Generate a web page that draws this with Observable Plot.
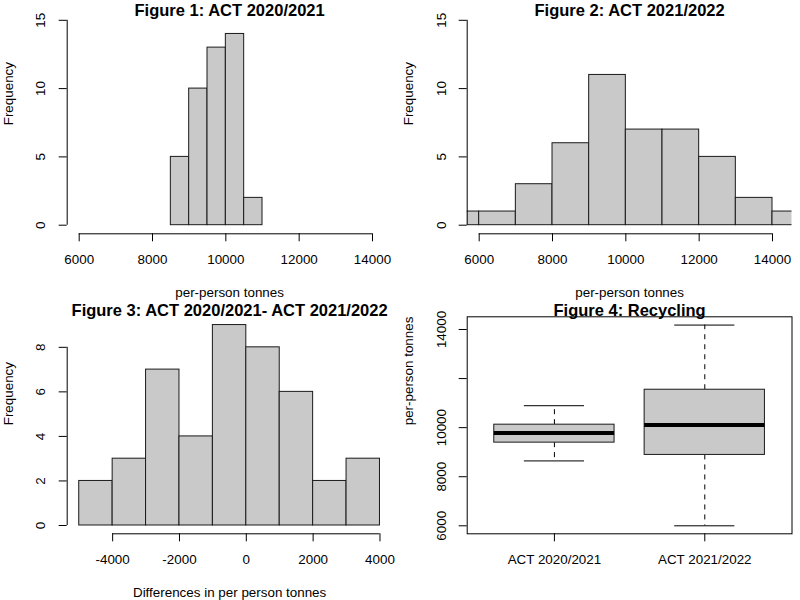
<!DOCTYPE html>
<html><head><meta charset="utf-8">
<script src="https://cdn.jsdelivr.net/npm/d3@7"></script>
<script src="https://cdn.jsdelivr.net/npm/@observablehq/plot@0.6"></script>
<style>
body{margin:0;background:#fff;}
#wrap{position:relative;width:800px;height:600px;background:#fff;}
#wrap svg{position:absolute;}
</style></head><body><div id="wrap"></div>
<script>
// ---- data ----
const binEdges1 = [8500, 9000, 9500, 10000, 10500, 11000];
const counts1 = [5, 10, 13, 14, 2];
const binEdges2 = [5000, 6000, 7000, 8000, 9000, 10000, 11000, 12000, 13000, 14000, 15000];
const counts2 = [1, 1, 3, 6, 11, 7, 7, 5, 2, 1];
const binEdges3 = [-5000, -4000, -3000, -2000, -1000, 0, 1000, 2000, 3000, 4000];
const counts3 = [2, 3, 7, 4, 9, 8, 6, 2, 3];
const boxGroups = ["ACT 2020/2021", "ACT 2021/2022"];
const whiskerLow = [8644, 6000];
const q1s = [9389, 8888];
const medians = [9783, 10109];
const q3s = [10121, 11545];
const whiskerHigh = [10894, 14180];
const ticksX12 = [6000, 8000, 10000, 12000, 14000];
const ticksY12 = [0, 5, 10, 15];
const ticksX3 = [-4000, -2000, 0, 2000, 4000];
const ticksY3 = [0, 2, 4, 6, 8];
const ticksY4 = [6000, 8000, 10000, 12000, 14000];
const labelsY4 = [6000, 8000, 10000, 14000];
const titles = ["Figure 1: ACT 2020/2021", "Figure 2: ACT 2021/2022", "Figure 3: ACT 2020/2021- ACT 2021/2022", "Figure 4: Recycling"];
const xLabels = ["per-person tonnes", "per-person tonnes", "Differences in per person tonnes"];
const yLabels = ["Frequency", "Frequency", "Frequency", "per-person tonnes"];

// ---- layout ----
const W = 400, H = 300, mL = 66.7, mR = 8.5, mT = 16.3, mB = 66.7;
const FONT = "'Liberation Sans', Arial, Helvetica, sans-serif";
const FS = 13.4, TFS = 16.5;
const FILL = "#c9c9c9";
const style = {fontFamily: FONT, fontSize: FS + "px", background: "white", color: "black", overflow: "visible"};

function common(title, ylabel, xlabel) {
  const m = [
    Plot.text([title], {frameAnchor: "top", dy: -1, lineAnchor: "bottom", fontWeight: "bold", fontSize: TFS, fill: "black"}),
    Plot.text([ylabel], {frameAnchor: "left", dx: -54, rotate: -90, lineAnchor: "bottom", fontSize: FS, fill: "black"})
  ];
  if (xlabel) m.push(Plot.text([xlabel], {frameAnchor: "bottom", dy: 63.4, lineAnchor: "bottom", fontSize: FS, fill: "black"}));
  return m;
}

function hist(edges, counts, xTicks, yTicks, xDom, yDom, title, xlabel, ylabel) {
  const bars = counts.map((c, i) => ({x1: edges[i], x2: edges[i + 1], n: c}));
  return Plot.plot({
    width: W, height: H, marginLeft: mL, marginRight: mR, marginTop: mT, marginBottom: mB,
    x: {domain: xDom, label: null}, y: {domain: yDom, label: null},
    style,
    marks: [
      Plot.rect(bars, {x1: "x1", x2: "x2", y1: 0, y2: "n", fill: FILL, stroke: "#1a1a1a", strokeWidth: 1, clip: true}),
      Plot.ruleY([yDom[0]], {x1: xTicks[0], x2: xTicks[xTicks.length - 1], stroke: "black"}),
      Plot.ruleX([xDom[0]], {y1: yTicks[0], y2: yTicks[yTicks.length - 1], stroke: "black"}),
      Plot.axisX({ticks: xTicks, tickSize: 8, tickPadding: 13, tickFormat: d => String(d), label: null, stroke: "black", fill: "black"}),
      Plot.axisY({ticks: yTicks, tickSize: 8, tickPadding: 13.7, tickRotate: -90, tickFormat: d => String(d), label: null, stroke: "black", fill: "black"}),
      ...common(title, ylabel, xlabel)
    ]
  });
}

function boxplot() {
  const boxes = boxGroups.map((g, i) => ({pos: i + 1, lo: whiskerLow[i], q1: q1s[i], med: medians[i], q3: q3s[i], hi: whiskerHigh[i]}));
  const yDom = [5674, 14517];
  return Plot.plot({
    width: W, height: H, marginLeft: mL, marginRight: mR, marginTop: mT, marginBottom: mB,
    x: {domain: [0.42, 2.58], label: null}, y: {domain: yDom, label: null},
    style,
    marks: [
      Plot.ruleX(boxes, {x: "pos", y1: "q3", y2: "hi", stroke: "black", strokeDasharray: "5,5"}),
      Plot.ruleX(boxes, {x: "pos", y1: "q1", y2: "lo", stroke: "black", strokeDasharray: "5,5"}),
      Plot.ruleY(boxes, {y: "hi", x1: d => d.pos - 0.2, x2: d => d.pos + 0.2, stroke: "black"}),
      Plot.ruleY(boxes, {y: "lo", x1: d => d.pos - 0.2, x2: d => d.pos + 0.2, stroke: "black"}),
      Plot.rect(boxes, {x1: d => d.pos - 0.4, x2: d => d.pos + 0.4, y1: "q1", y2: "q3", fill: FILL, stroke: "#1a1a1a", strokeWidth: 1}),
      Plot.ruleY(boxes, {y: "med", x1: d => d.pos - 0.4, x2: d => d.pos + 0.4, stroke: "black", strokeWidth: 4}),
      Plot.frame({stroke: "black"}),
      Plot.axisX({ticks: [1, 2], tickSize: 8, tickPadding: 13, tickFormat: d => boxGroups[d - 1], label: null, stroke: "black", fill: "black"}),
      Plot.axisY({ticks: ticksY4, tickSize: 8, tickPadding: 13.7, tickRotate: -90, tickFormat: d => labelsY4.includes(d) ? String(d) : "", label: null, stroke: "black", fill: "black"}),
      ...common(titles[3], yLabels[3], null)
    ]
  });
}

const wrap = document.getElementById("wrap");
const panels = [
  [hist(binEdges1, counts1, ticksX12, ticksY12, [5673, 14532], [-0.63, 15.256], titles[0], xLabels[0], yLabels[0]), 0, 0],
  [hist(binEdges2, counts2, ticksX12, ticksY12, [5673, 14532], [-0.63, 15.256], titles[1], xLabels[1], yLabels[1]), 400, 0],
  [hist(binEdges3, counts3, ticksX3, ticksY3, [-5360, 4360], [-0.373, 9.371], titles[2], xLabels[2], yLabels[2]), 0, 300],
  [boxplot(), 400, 300]
];
for (const [svg, x, y] of panels) {
  svg.style.left = x + "px";
  svg.style.top = y + "px";
  wrap.appendChild(svg);
}
</script></body></html>
